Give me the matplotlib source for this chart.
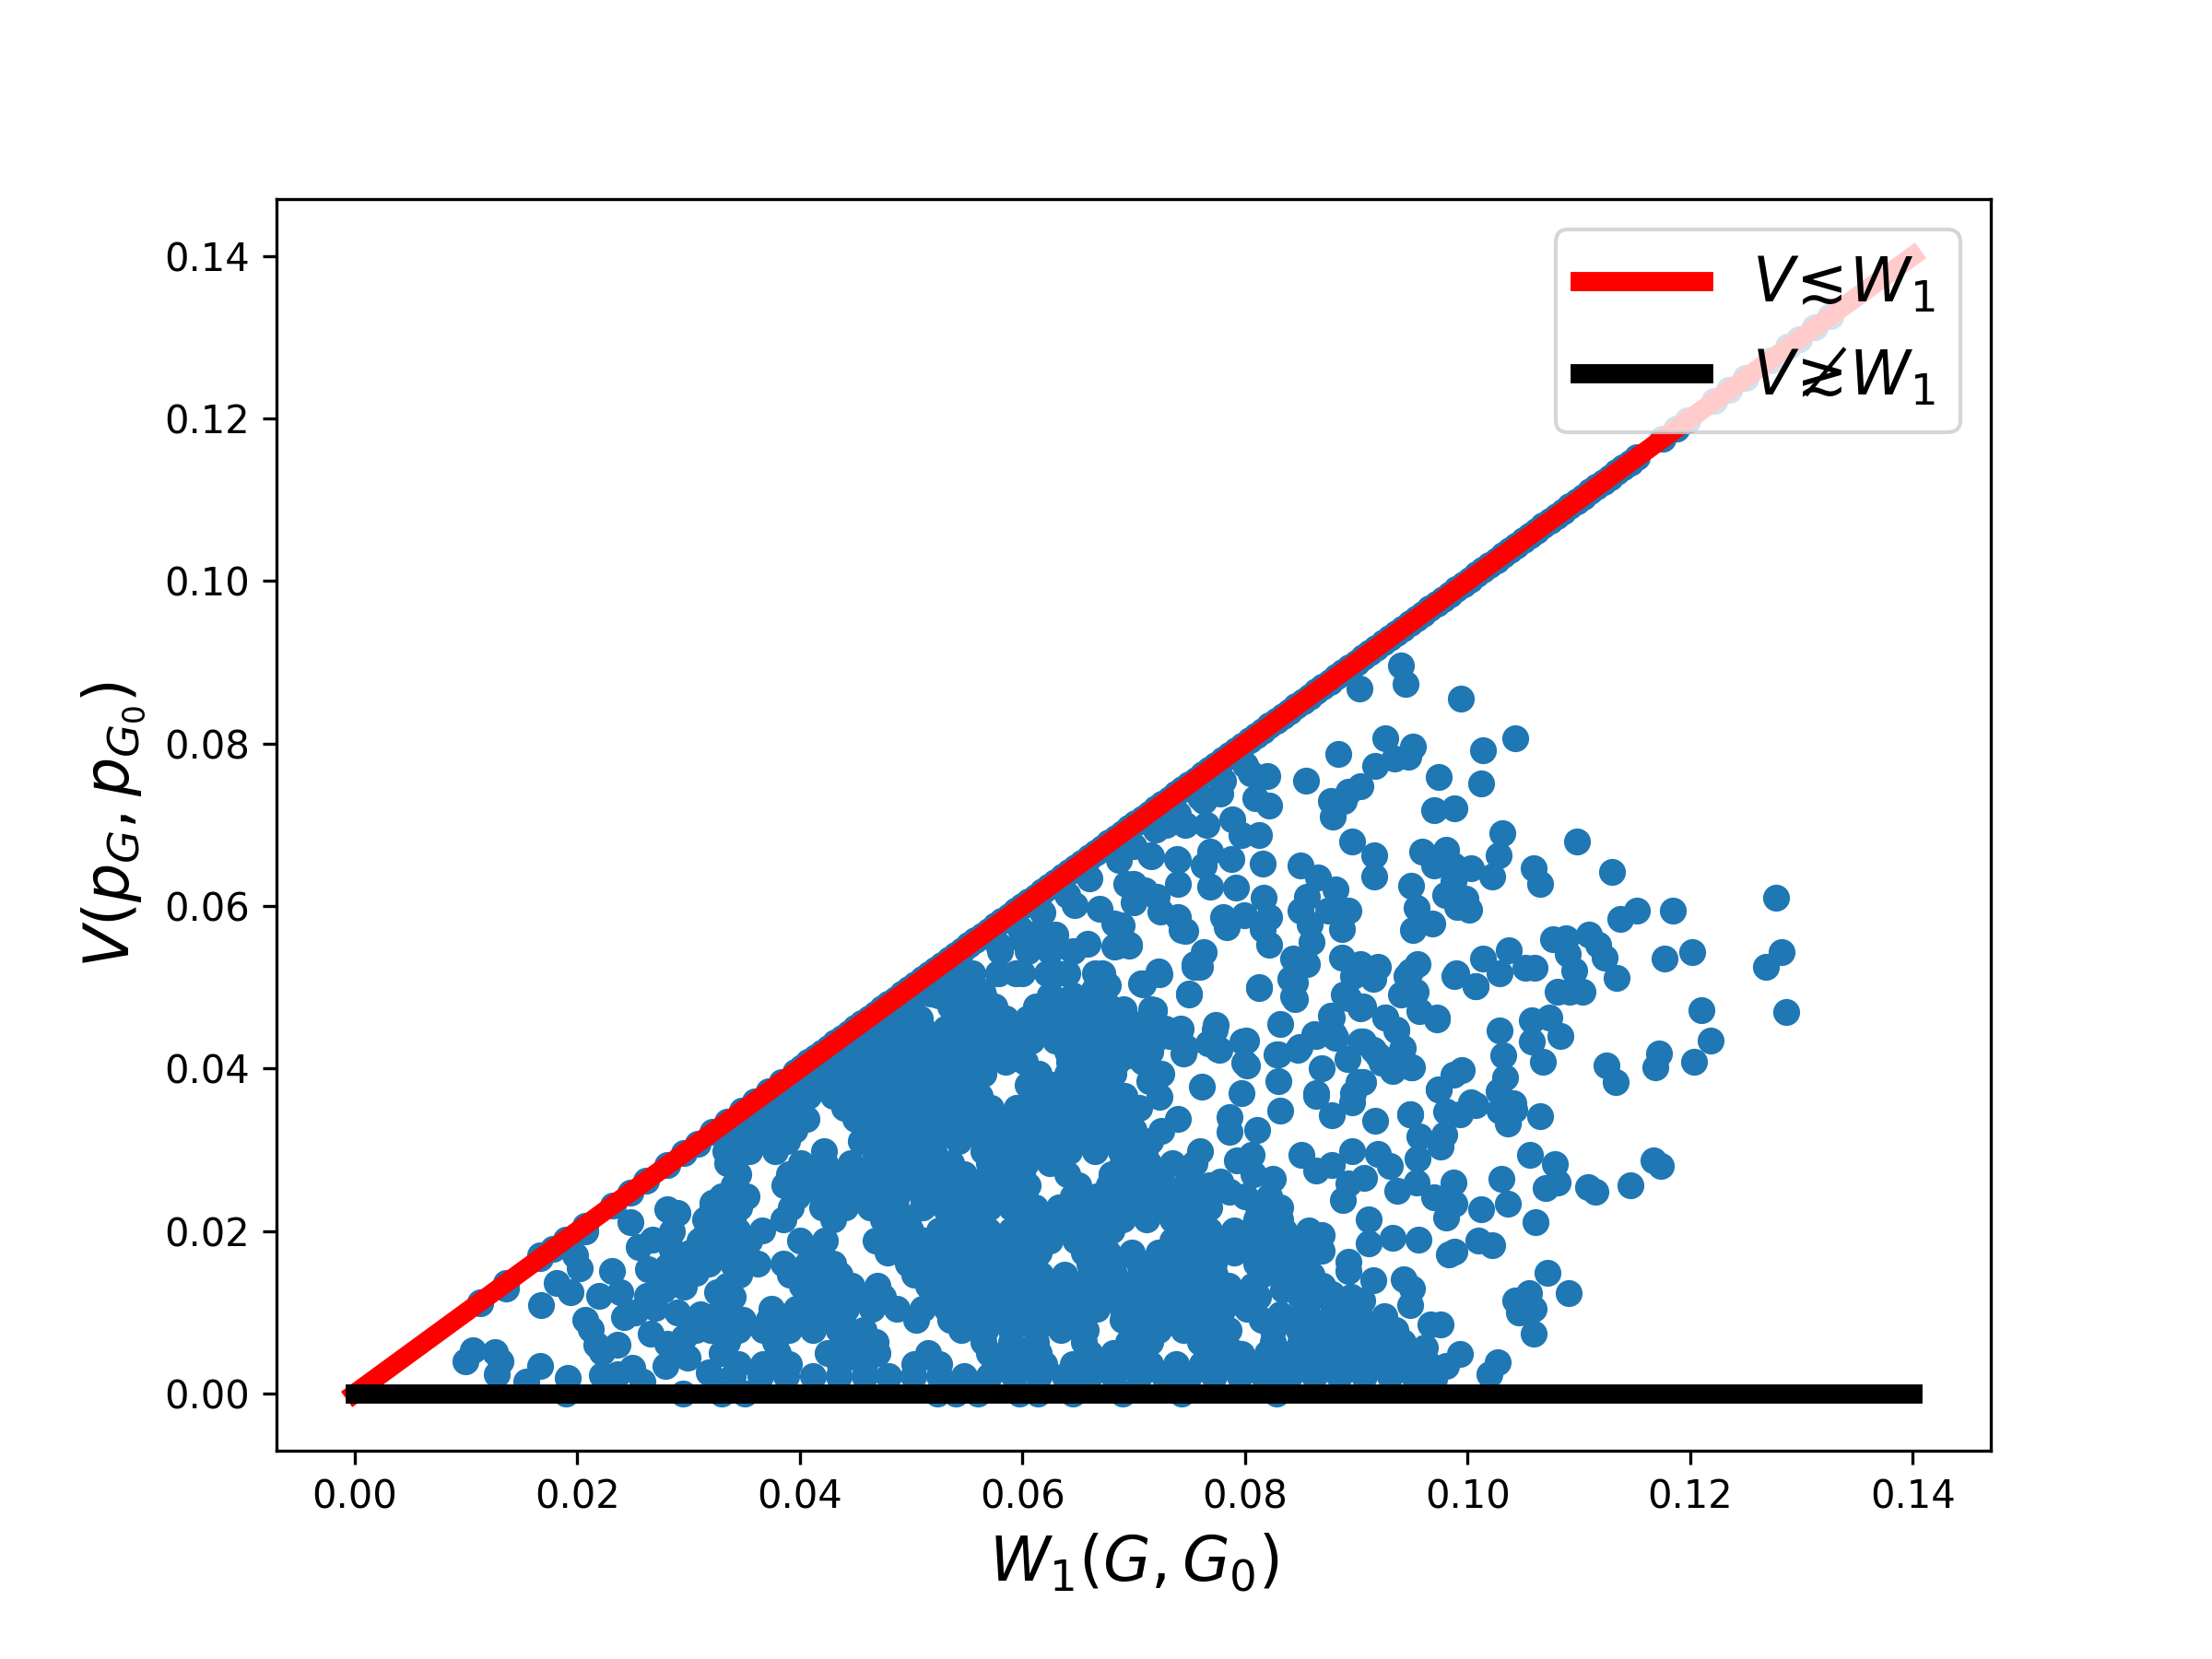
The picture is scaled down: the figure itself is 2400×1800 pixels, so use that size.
import numpy as np
import matplotlib
matplotlib.use('Agg')
import matplotlib.pyplot as plt

# points sitting on the V = W1 edge
edge_w = [0.0113, 0.0136, 0.0167, 0.0178, 0.0190, 0.0207, 0.0232, 0.0248, 0.0262, 0.0281, 0.0296,
          0.0308, 0.0322, 0.0335, 0.0348, 0.0360, 0.0372, 0.0384, 0.0396, 0.0408, 0.0420, 0.0432,
          0.0444, 0.0456, 0.0468, 0.0480, 0.0492, 0.0504, 0.0516, 0.0528, 0.0540, 0.0552, 0.0564,
          0.0576, 0.0588, 0.0600, 0.0612, 0.0624, 0.0636, 0.0648, 0.0660, 0.0672, 0.0684, 0.0696,
          0.0708, 0.0720, 0.0732, 0.0744, 0.0756, 0.0768, 0.0780, 0.0792, 0.0804, 0.0816, 0.0828,
          0.0840, 0.0852, 0.0864, 0.0876, 0.0888, 0.0900, 0.0912, 0.0924, 0.0936, 0.0948, 0.0960,
          0.0972, 0.0984, 0.0996, 0.1008, 0.1020, 0.1032, 0.1044, 0.1056, 0.1068, 0.1080, 0.1092,
          0.1104, 0.1116, 0.1128, 0.1140, 0.1152, 0.1175, 0.1188, 0.1198, 0.1222, 0.1235, 0.1250,
          0.1272, 0.1288, 0.1298, 0.1312, 0.1326,
          0.0402, 0.0414, 0.0426, 0.0438, 0.0450, 0.0462, 0.0474, 0.0486, 0.0498, 0.0510, 0.0522,
          0.0534, 0.0546, 0.0558, 0.0570, 0.0582, 0.0594, 0.0606, 0.0618, 0.0630, 0.0642, 0.0654,
          0.0666, 0.0678, 0.0690, 0.0702, 0.0714, 0.0726, 0.0738, 0.0750, 0.0762, 0.0774, 0.0786,
          0.0798, 0.0810, 0.0822, 0.0834, 0.0846, 0.0858, 0.0870, 0.0882, 0.0894, 0.0906, 0.0918,
          0.0930, 0.0942, 0.0954, 0.0966, 0.0978, 0.0990, 0.1002, 0.1014, 0.1026, 0.1038, 0.1050,
          0.1062, 0.1074, 0.1086, 0.1098, 0.1110, 0.1122, 0.1134, 0.1146]
edge_v = edge_w

# just under the red line
under_pts = [(.0335, .0310), (.0355, .0330), (.0375, .0350), (.0395, .0370), (.0415, .0390), (.0458, .0432),
             (.0478, .0452), (.0498, .0472), (.0518, .0492), (.0538, .0512), (.0578, .0552), (.0598, .0572),
             (.0618, .0592), (.0640, .0614), (.0660, .0634), (.0700, .0674), (.0720, .0694), (.0740, .0714),
             (.0760, .0734), (.0780, .0754), (.0800, .0774)]

# lower left corner, mostly separate dots
left_pts = [(.0100, .0040), (.0106, .0054), (.0126, .0051), (.0131, .0040), (.0128, .0024), (.0167, .0034),
            (.0154, .0015), (.0192, .0020), (.0190, .0000), (.0222, .0023), (.0236, .0024), (.0250, .0032),
            (.0259, .0015), (.0279, .0034), (.0299, .0045), (.0295, .0000), (.0318, .0026), (.0168, .0109),
            (.0194, .0125), (.0182, .0136), (.0202, .0154), (.0198, .0170), (.0136, .0130), (.0113, .0111),
            (.0207, .0200), (.0167, .0170), (.0207, .0091), (.0212, .0080), (.0217, .0060), (.0222, .0051),
            (.0236, .0060), (.0220, .0120), (.0231, .0151), (.0239, .0125), (.0242, .0094), (.0266, .0074),
            (.0281, .0062), (.0296, .0069), (.0307, .0079), (.0263, .0120), (.0270, .0106), (.0278, .0128),
            (.0255, .0181), (.0285, .0177), (.0285, .0200), (.0281, .0227), (.0290, .0222), (.0248, .0211),
            (.0264, .0153), (.0281, .0157), (.0296, .0132), (.0307, .0149), (.0326, .0125), (.0311, .0098),
            (.0268, .0190), (.0275, .0145), (.0252, .0100), (.0290, .0100), (.0315, .0195), (.0322, .0235)]

# right hand side, read one by one
right_pts = [(.0940, .0896), (.0944, .0873), (.0903, .0868), (.0994, .0855), (.1043, .0807), (.1014, .0792),
             (.0926, .0806), (.0951, .0796), (.0934, .0782), (.0947, .0784), (.0917, .0772), (.0884, .0787),
             (.0974, .0759), (.1012, .0751), (.0904, .0748), (.0893, .0741), (.0889, .0729), (.0877, .0729),
             (.0879, .0710), (.0855, .0754), (.0970, .0718), (.0988, .0720), (.1031, .0690), (.1028, .0663),
             (.1022, .0637), (.1003, .0647), (.0987, .0650), (.0981, .0669), (.0970, .0650), (.0959, .0667),
             (.0987, .0631), (.0980, .0614), (.0991, .0599), (.1001, .0596), (.0998, .0609), (.1098, .0679),
             (.1130, .0642), (.1059, .0647), (.1065, .0627), (.0896, .0679), (.0916, .0663), (.0916, .0636),
             (.0949, .0625), (.0954, .0598), (.0968, .0579), (.0951, .0571), (.1137, .0584), (.1152, .0595),
             (.1184, .0595), (.1177, .0535), (.1202, .0544), (.1277, .0610), (.1282, .0543), (.1268, .0525),
             (.1286, .0470), (.1210, .0472), (.1218, .0435), (.1203, .0409), (.1172, .0419), (.1169, .0402),
             (.1125, .0404), (.1133, .0383), (.1134, .0512), (.1123, .0537), (.1117, .0552), (.1109, .0565),
             (.1088, .0560), (.1077, .0559), (.1090, .0541), (.1096, .0521), (.1081, .0495), (.1103, .0495),
             (.1092, .0495), (.1060, .0524), (.1052, .0524), (.1029, .0517), (.1037, .0546), (.1014, .0535),
             (.1007, .0501), (.0990, .0517), (.0955, .0529), (.0945, .0514), (.0953, .0495), (.0940, .0491),
             (.0919, .0525), (.0904, .0529), (.0887, .0537), (.0897, .0514), (.0915, .0510), (.0889, .0491),
             (.0904, .0474), (.0877, .0465), (.0926, .0463), (.0972, .0463), (.0936, .0448), (.0862, .0442),
             (.0881, .0438), (.1058, .0460), (.1073, .0463), (.1083, .0440), (.1058, .0433), (.1029, .0447),
             (.1032, .0416), (.1068, .0408), (.1034, .0389), (.1028, .0372), (.0995, .0398), (.0987, .0393),
             (.0974, .0375), (.1003, .0359), (.1041, .0357), (.0949, .0402), (.0942, .0425), (.0904, .0434),
             (.0915, .0423), (.0923, .0407), (.0902, .0384), (.0892, .0412), (.0869, .0401), (.0847, .0423),
             (.0828, .0418), (.0801, .0435), (.0799, .0407), (.0774, .0454), (.0742, .0449), (.0731, .0447),
             (.0746, .0427), (.0775, .0424), (.0716, .0397), (.0695, .0416), (.0761, .0378), (.0797, .0370),
             (.0830, .0385), (.0864, .0370), (.0897, .0370), (.1065, .0342), (.1056, .0294), (.1070, .0253),
             (.1078, .0283), (.1081, .0260), (.1030, .0264), (.1036, .0234), (.1012, .0227), (.1061, .0211),
             (.1072, .0149), (.1091, .0124), (.1043, .0115), (.1055, .0124), (.1046, .0100), (.1059, .0104),
             (.1059, .0074), (.1027, .0039), (.1020, .0024), (.0988, .0175), (.0983, .0172), (.1010, .0188),
             (.1022, .0183), (.1115, .0249), (.1108, .0254), (.1146, .0256), (.1167, .0287), (.1174, .0280),
             (.1029, .0348), (.1042, .0349), (.1036, .0332)]

# middle part, scattered but crowded
mid_pts = [(.0820, .0760), (.0805, .0763), (.0809, .0733), (.0822, .0724), (.0778, .0739), (.0763, .0730),
           (.0789, .0707), (.0765, .0700), (.0746, .0700), (.0729, .0700), (.0813, .0688), (.0797, .0688),
           (.0850, .0650), (.0866, .0635), (.0881, .0621), (.0856, .0612), (.0893, .0594), (.0850, .0595),
           (.0875, .0595), (.0887, .0572), (.0858, .0578), (.0817, .0610), (.0822, .0586), (.0799, .0589),
           (.0780, .0587), (.0784, .0574), (.0816, .0572), (.0822, .0552), (.0860, .0556), (.0843, .0535),
           (.0856, .0529), (.0841, .0510), (.0845, .0486), (.0813, .0499), (.0740, .0657), (.0715, .0663),
           (.0700, .0627), (.0769, .0624), (.0792, .0623), (.0816, .0652), (.0788, .0658), (.0769, .0667),
           (.0763, .0650), (.0687, .0657), (.0721, .0612), (.0700, .0605), (.0740, .0586), (.0746, .0569),
           (.0689, .0576), (.0696, .0552), (.0683, .0550), (.0763, .0544), (.0755, .0529), (.0722, .0520),
           (.0708, .0505), (.0750, .0491), (.0832, .0455), (.0674, .0505), (.0691, .0473), (.0716, .0473),
           (.0659, .0554), (.0685, .0551), (.0696, .0551), (.0707, .0505), (.0672, .0517), (.0664, .0497),
           (.0677, .0503), (.0716, .0661), (.0739, .0658), (.0740, .0627), (.0693, .0627), (.0710, .0619),
           (.0724, .0593), (.0743, .0571), (.0669, .0597), (.0647, .0601), (.0683, .0579), (.0760, .0525),
           (.0617, .0563), (.0631, .0551), (.0600, .0559), (.0631, .0517), (.0594, .0517), (.0628, .0487),
           (.0578, .0517), (.0564, .0495), (.0523, .0491), (.0542, .0491), (.0691, .0472), (.0718, .0472),
           (.0736, .0442), (.0813, .0500), (.0845, .0506), (.0843, .0489), (.0750, .0492), (.0708, .0504),
           (.0723, .0516), (.0755, .0525), (.0718, .0472), (.0773, .0448), (.0741, .0446), (.0732, .0440),
           (.0798, .0434), (.0777, .0423), (.0745, .0419), (.0767, .0431), (.0802, .0404), (.0830, .0417),
           (.0849, .0427), (.0864, .0440), (.0880, .0442), (.0878, .0463), (.0893, .0487), (.0906, .0476),
           (.0915, .0514), (.0948, .0520), (.0948, .0492), (.0972, .0461), (.0957, .0471), (.0926, .0463),
           (.0936, .0447), (.0906, .0434), (.0919, .0416), (.0941, .0423), (.0950, .0402), (.0933, .0397),
           (.0988, .0514), (.1007, .0501), (.0723, .0365), (.0714, .0385), (.0725, .0323), (.0786, .0340),
           (.0786, .0322), (.0811, .0325), (.0832, .0348), (.0864, .0366), (.0906, .0383), (.0896, .0359),
           (.0878, .0343), (.0948, .0344), (.0917, .0336), (.0957, .0317), (.0979, .0319), (.0976, .0304),
           (.0955, .0289), (.0930, .0280), (.0907, .0266), (.0919, .0295), (.0896, .0299), (.0793, .0287),
           (.0806, .0294), (.0808, .0270), (.0778, .0261), (.0786, .0249), (.0825, .0264), (.0851, .0294),
           (.0864, .0275), (.0878, .0281), (.0893, .0259), (.0888, .0238), (.0911, .0215), (.0937, .0250),
           (.0954, .0260), (.0970, .0242), (.0987, .0260), (.0988, .0234), (.0981, .0217), (.0974, .0374),
           (.1007, .0355), (.0981, .0347), (.0993, .0344), (.0948, .0344), (.0933, .0192), (.0956, .0190),
           (.0911, .0185), (.0893, .0162), (.0893, .0151), (.0869, .0195), (.0869, .0176), (.0842, .0181),
           (.0943, .0141), (.0915, .0140), (.0948, .0109), (.0967, .0085), (.0976, .0085), (.0962, .0057),
           (.0993, .0049), (.0981, .0034), (.0970, .0018), (.0878, .0123), (.0864, .0130), (.0849, .0137),
           (.0832, .0098), (.0834, .0128), (.0822, .0155), (.0804, .0038), (.0797, .0049), (.0837, .0023),
           (.0896, .0039), (.0915, .0056), (.0944, .0052), (.0950, .0130), (.0905, .0115), (.0925, .0095)]

# crowded block, read row by row: V value of the row, then W values along it
row_v = [.0490, .0462, .0435, .0408, .0380, .0352, .0325, .0298, .0270, .0243, .0215,
         .0188, .0160, .0133, .0105, .0078, .0050, .0022, .0000]
row_w = [
    [.0505, .0525, .0545, .0565, .0625, .0645, .0665],
    [.0488, .0508, .0540, .0562, .0585, .0605, .0628, .0650, .0672, .0693, .0715],
    [.0455, .0478, .0498, .0520, .0542, .0565, .0587, .0608, .0630, .0650, .0672, .0695, .0718],
    [.0430, .0450, .0472, .0495, .0517, .0540, .0562, .0585, .0602, .0642, .0665, .0685, .0708],
    [.0402, .0425, .0447, .0468, .0490, .0512, .0535, .0555, .0605, .0628, .0650, .0672],
    [.0372, .0395, .0440, .0462, .0483, .0505, .0528, .0550, .0572, .0595, .0617, .0640, .0662, .0683, .0705],
    [.0350, .0373, .0395, .0460, .0482, .0505, .0526, .0548, .0570, .0592, .0613, .0635, .0658, .0680, .0700],
    [.0333, .0355, .0378, .0422, .0467, .0488, .0510, .0520, .0565, .0577, .0598, .0620, .0642, .0665, .0688, .0710,
     .0760],
    [.0345, .0390, .0412, .0435, .0457, .0480, .0502, .0525, .0548, .0570, .0592, .0600, .0640, .0680, .0702, .0725,
     .0750],
    [.0330, .0352, .0398, .0420, .0443, .0465, .0487, .0510, .0532, .0555, .0577, .0600, .0645, .0667, .0690, .0712,
     .0735, .0757, .0800, .0822],
    [.0315, .0340, .0385, .0430, .0475, .0497, .0540, .0560, .0600, .0622, .0645, .0667, .0690, .0712, .0735, .0757,
     .0810, .0832],
    [.0310, .0333, .0355, .0400, .0423, .0468, .0490, .0512, .0535, .0557, .0580, .0602, .0625, .0648, .0670, .0735,
     .0757, .0780, .0802, .0825, .0848],
    [.0295, .0318, .0340, .0362, .0385, .0407, .0430, .0497, .0520, .0542, .0565, .0587, .0610, .0660, .0682, .0705,
     .0727, .0750, .0772, .0810, .0832, .0855],
    [.0335, .0402, .0425, .0447, .0470, .0515, .0537, .0560, .0582, .0605, .0627, .0650, .0672, .0695, .0717, .0740,
     .0762, .0785, .0807, .0845, .0870],
    [.0330, .0375, .0397, .0420, .0442, .0465, .0487, .0510, .0532, .0555, .0577, .0600, .0622, .0645, .0667, .0690,
     .0712, .0735, .0757, .0780, .0802, .0855, .0880, .0900],
    [.0320, .0345, .0367, .0390, .0412, .0435, .0457, .0545, .0567, .0590, .0612, .0635, .0657, .0700, .0722, .0745,
     .0767, .0785, .0825, .0848, .0870, .0893, .0915, .0935],
    [.0330, .0380, .0425, .0447, .0470, .0515, .0570, .0592, .0615, .0660, .0682, .0705, .0770, .0792, .0820, .0842,
     .0865, .0887, .0910, .0932, .0955],
    [.0340, .0365, .0388, .0412, .0435, .0458, .0480, .0502, .0525, .0548, .0570, .0592, .0615, .0638, .0660, .0682,
     .0705, .0727, .0750, .0772, .0795, .0817, .0840, .0862, .0885, .0907, .0930, .0952, .0970],
    [.0330, .0351, .0524, .0540, .0560, .0597, .0614, .0645, .0690, .0743, .0828],
]

# second pass over the block, rows that fall between the ones above
row2_v = [.0565, .0545, .0517, .0476, .0449, .0421, .0394, .0366, .0338, .0311, .0284, .0257,
          .0229, .0201, .0174, .0146, .0119, .0091, .0064, .0036]
row2_w = [
    [.0610, .0630],
    [.0580, .0605, .0625, .0645],
    [.0555, .0578, .0600, .0622, .0640, .0665],
    [.0495, .0535, .0555, .0575, .0612, .0635, .0655, .0678],
    [.0470, .0490, .0510, .0531, .0552, .0575, .0597, .0619, .0640, .0661, .0683, .0705, .0728],
    [.0440, .0463, .0487, .0508, .0530, .0552, .0575, .0595, .0640, .0655, .0675, .0697, .0715],
    [.0415, .0437, .0458, .0480, .0502, .0524, .0546, .0565, .0615, .0640, .0662, .0682, .0725],
    [.0385, .0408, .0430, .0452, .0474, .0495, .0518, .0540, .0562, .0610, .0628, .0650, .0672, .0692],
    [.0361, .0384, .0406, .0450, .0472, .0494, .0516, .0538, .0560, .0582, .0604, .0625, .0647, .0670, .0692, .0740],
    [.0345, .0367, .0389, .0455, .0477, .0499, .0521, .0543, .0565, .0587, .0609, .0631, .0653, .0675, .0697, .0715],
    [.0335, .0401, .0423, .0446, .0468, .0491, .0513, .0536, .0570, .0581, .0603, .0625, .0690, .0713, .0735, .0755],
    [.0341, .0386, .0409, .0431, .0454, .0476, .0498, .0521, .0543, .0566, .0588, .0605, .0650, .0678, .0701, .0723,
     .0746, .0768],
    [.0322, .0346, .0392, .0420, .0441, .0463, .0486, .0510, .0530, .0550, .0570, .0590, .0611, .0633, .0656, .0678,
     .0701, .0723, .0746, .0768, .0812, .0832],
    [.0322, .0344, .0366, .0479, .0500, .0525, .0547, .0569, .0590, .0613, .0636, .0659, .0680, .0745, .0768, .0790,
     .0812, .0835, .0857],
    [.0302, .0325, .0347, .0412, .0479, .0502, .0524, .0546, .0569, .0591, .0615, .0655, .0677, .0698, .0722, .0743,
     .0765, .0790, .0815, .0840, .0860],
    [.0346, .0391, .0413, .0436, .0503, .0526, .0548, .0571, .0593, .0616, .0638, .0661, .0683, .0706, .0728, .0751,
     .0773, .0815, .0838, .0860],
    [.0340, .0408, .0430, .0452, .0475, .0520, .0543, .0566, .0588, .0611, .0633, .0656, .0678, .0701, .0723, .0746,
     .0768, .0790, .0812, .0850, .0873, .0895],
    [.0325, .0349, .0372, .0394, .0416, .0438, .0505, .0535, .0560, .0583, .0606, .0628, .0651, .0690, .0711, .0733,
     .0755, .0778, .0815, .0838, .0860, .0882, .0905, .0925],
    [.0335, .0378, .0446, .0468, .0565, .0590, .0612, .0655, .0695, .0715, .0760, .0782, .0825, .0850, .0872, .0895,
     .0920, .0942],
    [.0345, .0367, .0390, .0436, .0458, .0503, .0525, .0575, .0597, .0620, .0645, .0670, .0692, .0715, .0738, .0761,
     .0785, .0830, .0852, .0875, .0897, .0920, .0945, .0965],
]

line_ends = [0, 0.14]
zero_line = [0, 0]
xticks = [0.00, 0.02, 0.04, 0.06, 0.08, 0.10, 0.12, 0.14]

# put the scatter together
w = list(edge_w)
v = list(edge_v)
for pts in [under_pts, left_pts, right_pts, mid_pts]:
    w += [p[0] for p in pts]
    v += [p[1] for p in pts]
for val, row in list(zip(row_v, row_w)) + list(zip(row2_v, row2_w)):
    w += row
    v += [val] * len(row)

fig, ax = plt.subplots(figsize=(8, 6), dpi=300)
fig.subplots_adjust(left=0.125, right=0.9, top=0.88, bottom=0.1256)

ax.scatter(w, v)
ax.plot(line_ends, line_ends, color='red', linewidth=5, label=r'$V\!\lesssim\!W_1$')
ax.plot(line_ends, zero_line, color='black', linewidth=5, label=r'$V\!\gtrsim\!\not W_1$')

ax.set_xticks(xticks)
ax.set_yticks(xticks)
ax.set_xlabel(r'$W_1(G,G_0)$', fontsize=16)
ax.set_ylabel(r'$V(p_G,p_{G_0})$', fontsize=16)
ax.legend(loc='upper right', fontsize=16)

fig.savefig('out.png', dpi=300)
